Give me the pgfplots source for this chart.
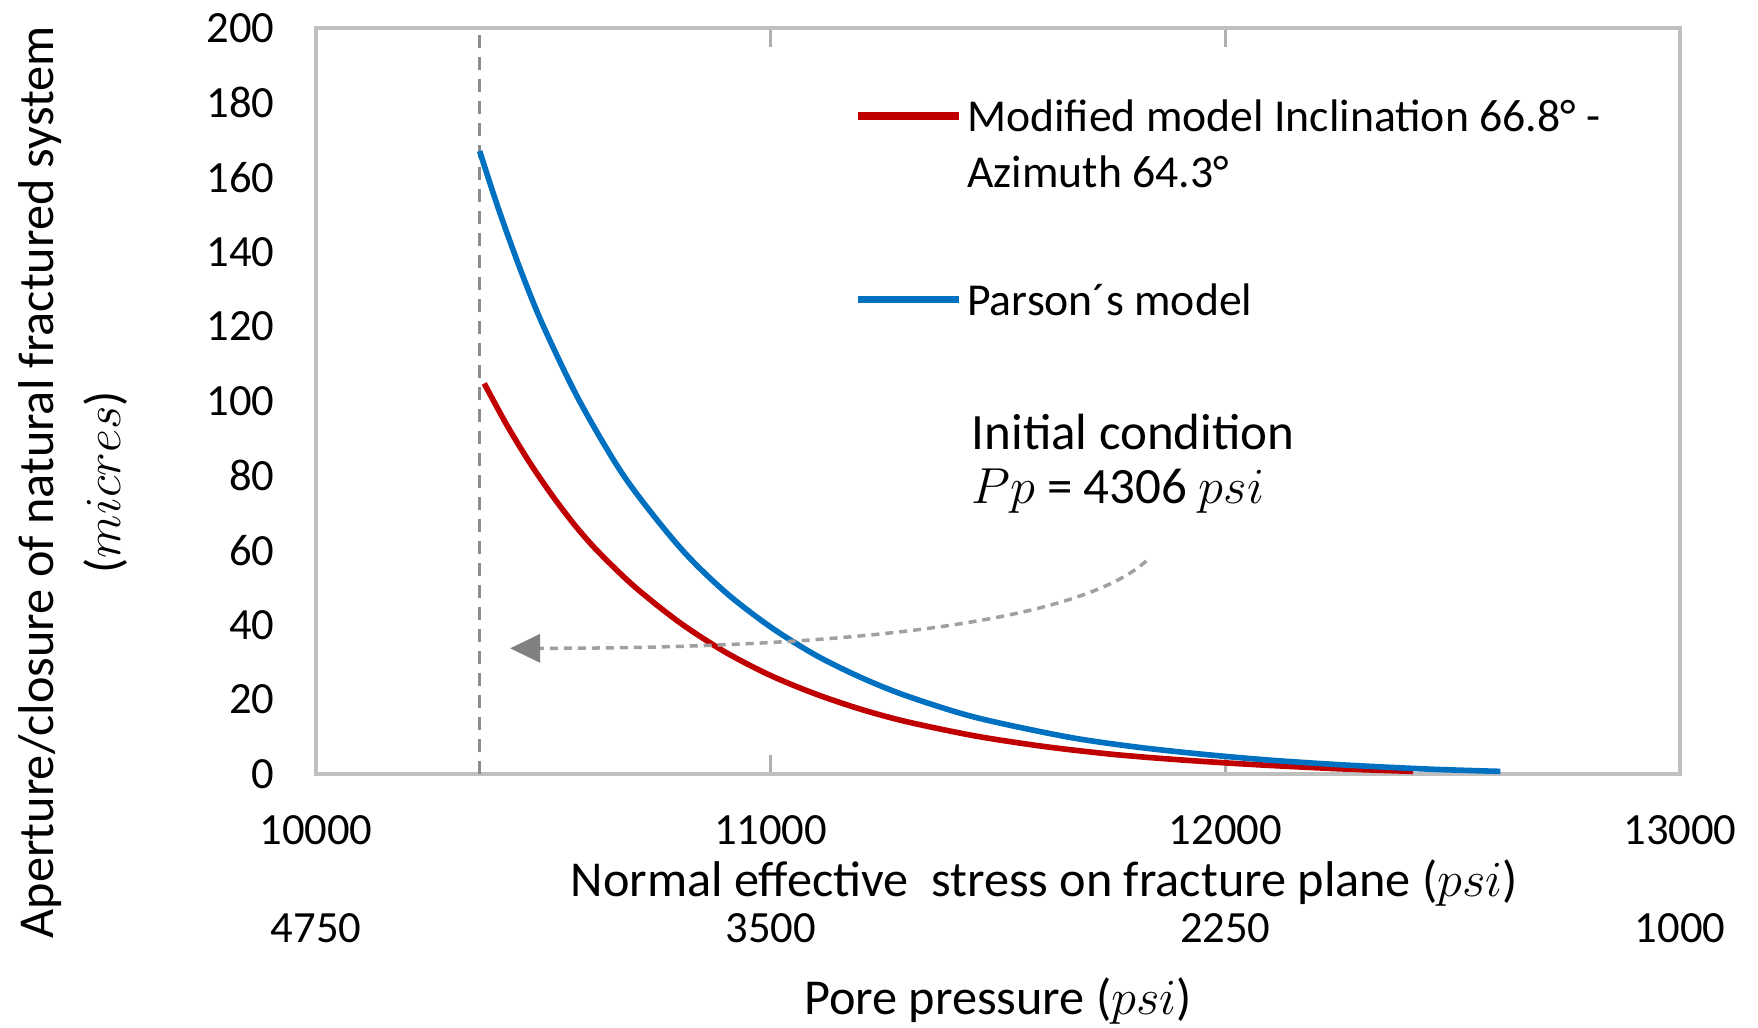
\documentclass[border=0pt]{standalone}
\usepackage{pgfplots}
\pgfplotsset{compat=1.18}
\usepackage{fontspec}
\setmainfont{Carlito}
\usetikzlibrary{arrows.meta}
\definecolor{modred}{RGB}{192,0,0}
\definecolor{parblue}{RGB}{0,112,192}
\definecolor{framegray}{RGB}{191,191,191}
\definecolor{tickgray}{RGB}{175,175,175}
\definecolor{dashgray}{RGB}{140,140,140}
\definecolor{arrgray}{RGB}{160,160,160}
\definecolor{headgray}{RGB}{128,128,128}
\newcommand\lbl{\fontsize{13}{15.6}\selectfont}
\newcommand\axl{\fontsize{14.3}{17}\selectfont}
\newcommand\tck{\fontsize{12.7}{15}\selectfont}
\newcommand\ann{\fontsize{14.5}{17}\selectfont}

\begin{document}
\begin{tikzpicture}
\begin{axis}[
  scale only axis,
  width=13.64cm, height=7.46cm,
  xmin=10000, xmax=13000, ymin=0, ymax=200,
  scaled x ticks=false,
  xtick={10000,11000,12000,13000},
  xticklabels={10000,11000,12000,13000},
  ytick={0,20,...,200},
  tick align=inside,
  xtick pos=both,
  major tick length=0.19cm,
  xtick style={color=tickgray, line width=0.8pt},
  ytick style={draw=none},
  axis line style={draw=framegray, line width=1pt},
  tick label style={font=\tck},
  /pgf/number format/assume math mode=true,
  xticklabel style={yshift=-0.29cm},
  yticklabel style={xshift=-0.29cm},
  label style={font=\axl},
  xlabel={Normal effective\ \ stress on fracture plane ($psi$)},
  xlabel style={at={(rel axis cs:0.534,0)}, anchor=center, yshift=-1.09cm},
  ylabel={Aperture/closure of natural fractured system\\[2pt]($micres$)},
  ylabel style={at={([xshift=-2.43cm]rel axis cs:0,0.391)}, anchor=center, align=center},
  clip=false,
]
% initial condition marker
\addplot[dashgray, line width=0.7pt, dash pattern=on 0.13cm off 0.09cm]
  coordinates {(10360,0) (10360,200)};

% modified model
\addplot[modred, line width=1.6pt, smooth] coordinates {
  (10370,104.7) (10420,93.5) (10470,83.5) (10520,74.6) (10570,66.6) (10620,59.7)
  (10700,50.3) (10800,40.6) (10900,32.7) (11000,26.4) (11100,21.4) (11200,17.3)
  (11300,14.0) (11450,10.2) (11600,7.4) (11750,5.3) (11900,3.8) (12068,2.5)
  (12250,1.4) (12413,0.7)
};
% Parson's model
\addplot[parblue, line width=1.6pt, smooth] coordinates {
  (10360,167) (10400,152) (10450,135.1) (10500,120.1) (10580,99.9) (10680,79.4)
  (10800,60.8) (10900,48.8) (11000,39.4) (11100,31.8) (11200,25.8) (11300,20.9)
  (11450,15.2) (11650,10.0) (11800,7.3) (11950,5.3) (12100,3.7) (12265,2.4)
  (12450,1.3) (12605,0.7)
};

% legend
\draw[modred, line width=2.2pt] (axis cs:11192,176.5) -- (axis cs:11414,176.5);
\node[anchor=west, font=\lbl, inner sep=0pt] at (axis cs:11431,176.5) {Modified model Inclination 66.8° -};
\node[anchor=west, font=\lbl, inner sep=0pt] at (axis cs:11431,161.5) {Azimuth 64.3°};
\draw[parblue, line width=2.2pt] (axis cs:11192,127.2) -- (axis cs:11414,127.2);
\node[anchor=west, font=\lbl, inner sep=0pt] at (axis cs:11431,127.2) {Parson´s model};

% annotation
\node[anchor=west, font=\ann, inner sep=0pt] at (axis cs:11441,91.7) {Initial condition};
\node[anchor=west, font=\ann, inner sep=0pt] at (axis cs:11441,75.8) {$Pp$ = 4306 $psi$};
\draw[arrgray, line width=1pt, dash pattern=on 0.08cm off 0.06cm,
      -{Triangle[length=0.3cm,width=0.28cm,color=headgray]}]
  (axis cs:11826,57.1) .. controls (axis cs:11683,41.5) and (axis cs:11216,33.7) .. (axis cs:10427,33.7);
\end{axis}

% pore pressure scale
\begin{axis}[
  scale only axis,
  width=13.64cm, height=7.46cm,
  xmin=10000, xmax=13000, ymin=0, ymax=200,
  scaled x ticks=false,
  hide y axis,
  axis x line*=bottom,
  axis line style={draw=none},
  xtick={10000,11000,12000,13000},
  xticklabels={4750,3500,2250,1000},
  xtick style={draw=none},
  tick label style={font=\tck},
  xticklabel style={yshift=-1.27cm},
  label style={font=\axl},
  xlabel={Pore pressure ($psi$)},
  xlabel style={at={(rel axis cs:0.5,0)}, anchor=center, yshift=-2.27cm},
]
\end{axis}
\pgfresetboundingbox
\useasboundingbox (-3.16,-2.53) rectangle (14.42,7.74);
\end{tikzpicture}
\end{document}
